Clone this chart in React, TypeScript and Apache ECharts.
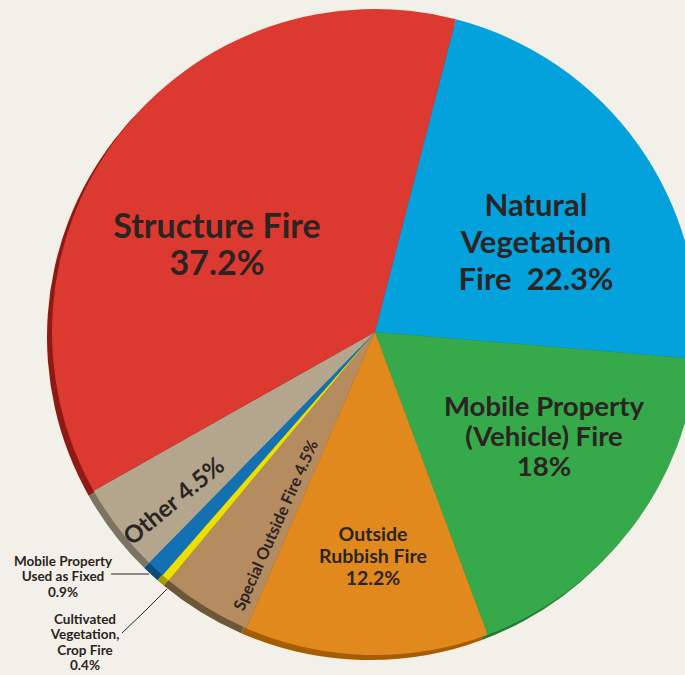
import React, { useEffect, useRef } from "react";
import * as echarts from "echarts";

const categories = [
  "Natural Vegetation Fire",
  "Mobile Property (Vehicle) Fire",
  "Outside Rubbish Fire",
  "Special Outside Fire",
  "Cultivated Vegetation, Crop Fire",
  "Mobile Property Used as Fixed",
  "Other",
  "Structure Fire",
];
const values = [22.3, 18, 12.2, 4.5, 0.4, 0.9, 4.5, 37.2];
const labelTexts = [
  "Natural\nVegetation\nFire  22.3%",
  "Mobile Property\n(Vehicle) Fire\n18%",
  "Outside\nRubbish Fire\n12.2%",
  "Special Outside Fire 4.5%",
  "Cultivated\nVegetation,\nCrop Fire\n0.4%",
  "Mobile Property\nUsed as Fixed\n0.9%",
  "Other 4.5%",
  "Structure Fire\n37.2%",
];
const colors = ["#03a2dc", "#36a94a", "#e2891d", "#b58b60", "#ebe000", "#1270b3", "#b3a68d", "#dc3a31"];
const shadeColors = ["#02709a", "#267a35", "#a65c00", "#6e5638", "#a39b00", "#0b4a7a", "#7a7462", "#8f1a14"];

// label styling / placement (presentation only)
const labelFont = [31, 27.5, 19.5, 16.3, 13.5, 13.5, 24, 34];
const labelLH = [37, 30, 22, 18, 15.5, 15.5, 26, 37];
const labelRot = [0, 0, 0, 66, 0, 0, 39.5, 0];
const labelPos = [
  [536, 241],
  [544, 435],
  [373, 555],
  [275, 525],
  [85, 642],
  [63, 576],
  [173, 500],
  [217, 243],
];
const leaderLines: Record<number, number[][]> = {
  4: [[167, 589], [145, 611], [122, 633]],
  5: [[149, 574], [130, 574], [111, 574]],
};

const CENTER = [375, 332];
const RADIUS = 323;
const START = 75.5;

export default function App() {
  const ref = useRef<HTMLDivElement>(null);
  useEffect(() => {
    document.body.style.margin = "0";
    const chart = echarts.init(ref.current!, null, { renderer: "svg" });
    const outside = (i: number) => i === 4 || i === 5;
    chart.setOption({
      animation: false,
      backgroundColor: "#f3f0ea",
      series: [
        {
          type: "pie",
          silent: true,
          z: 1,
          center: [CENTER[0] - 5, CENTER[1] + 5],
          radius: RADIUS,
          startAngle: START,
          clockwise: true,
          label: { show: false },
          labelLine: { show: false },
          data: values.map((v, i) => ({
            value: v,
            name: categories[i] + " shade",
            itemStyle: { color: shadeColors[i] },
          })),
        },
        {
          type: "pie",
          z: 2,
          center: CENTER,
          radius: RADIUS,
          startAngle: START,
          clockwise: true,
          avoidLabelOverlap: false,
          itemStyle: { borderWidth: 0 },
          data: values.map((v, i) => ({
            value: v,
            name: categories[i],
            itemStyle: { color: colors[i] },
            label: {
              show: true,
              position: outside(i) ? "outside" : "inside",
              formatter: labelTexts[i],
              fontFamily: "Lato",
              fontWeight: "bold",
              fontSize: labelFont[i],
              lineHeight: labelLH[i],
              color: "#2b2422",
              align: "center",
              rotate: labelRot[i],
            },
            labelLine: {
              show: outside(i),
              lineStyle: { color: "#2b2422", width: 1 },
            },
          })),
          labelLayout: (p: any) => {
            const i = p.dataIndex;
            const res: any = {
              x: labelPos[i][0],
              y: labelPos[i][1],
              align: "center",
              verticalAlign: "middle",
            };
            if (leaderLines[i]) res.labelLinePoints = leaderLines[i];
            return res;
          },
        },
      ],
    });
    return () => chart.dispose();
  }, []);
  return (
    <div
      ref={ref}
      style={{ position: "absolute", left: 0, top: 0, width: 685, height: 675 }}
    />
  );
}
